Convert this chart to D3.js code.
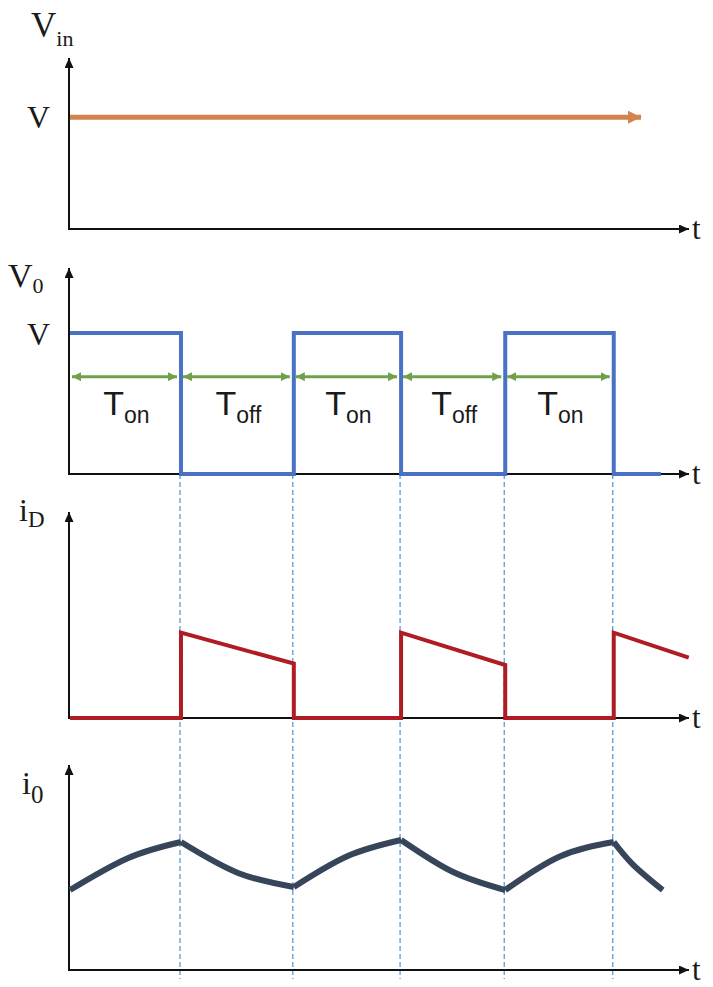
<!DOCTYPE html>
<html>
<head>
<meta charset="utf-8">
<script src="https://cdn.jsdelivr.net/npm/d3@7"></script>
<style>
  body { margin: 0; background: #fff; }
  svg { display: block; }
  .serif { font-family: "Liberation Serif", "DejaVu Serif", serif; fill: #1a1a1a; }
  .sans { font-family: "Liberation Sans", Arial, sans-serif; fill: #1a1a1a; }
</style>
</head>
<body>
<svg id="chart"></svg>
<script>
// time in arbitrary units, switching instants
const switchTimes = [1.79, 3.61, 5.34, 7.02, 8.77];
const spanLabels = ["on", "off", "on", "off", "on"];

// input voltage (constant V)
const vinTime = [0, 9.21];
const vinValue = [1, 1];

// output voltage (square wave)
const v0Time = [0, 1.79, 1.79, 3.61, 3.61, 5.34, 5.34, 7.02, 7.02, 8.77, 8.77, 9.53];
const v0Value = [1, 1, 0, 0, 1, 1, 0, 0, 1, 1, 0, 0];

// diode current
const iDTime = [0, 1.79, 1.79, 3.61, 3.61, 5.34, 5.34, 7.02, 7.02, 8.77, 8.77, 9.98];
const iDValue = [0, 0, 0.58, 0.37, 0, 0, 0.58, 0.36, 0, 0, 0.58, 0.41];

// load current (start, middle, end of each rising / falling stretch)
const i0Time = [0, 0.94, 1.79, 2.71, 3.61, 4.48, 5.34, 6.18, 7.02, 7.9, 8.77, 9.08, 9.56];
const i0Value = [0.546, 0.765, 0.874, 0.663, 0.567, 0.779, 0.888, 0.669, 0.546, 0.775, 0.874, 0.72, 0.546];

const width = 713;
const height = 987;

const svg = d3.select("#chart").attr("width", width).attr("height", height);

const x = d3.scaleLinear().domain([0, 10]).range([69, 689]);

// one y scale per panel
const yVin = d3.scaleLinear().domain([0, 1.53]).range([229, 58]);
const yV0 = d3.scaleLinear().domain([0, 1.46]).range([474, 268]);
const yID = d3.scaleLinear().domain([0, 1.4]).range([718, 512]);
const yI0 = d3.scaleLinear().domain([0, 1.4]).range([970, 765]);

const defs = svg.append("defs");

function arrowMarker(id, color, w, h) {
    defs.append("marker")
        .attr("id", id)
        .attr("viewBox", `0 0 ${w} ${h}`)
        .attr("refX", w)
        .attr("refY", h / 2)
        .attr("markerUnits", "userSpaceOnUse")
        .attr("markerWidth", w)
        .attr("markerHeight", h)
        .attr("orient", "auto-start-reverse")
        .append("path")
        .attr("d", `M0,0L${w},${h / 2}L0,${h}Z`)
        .attr("fill", color);
}
arrowMarker("axisArrow", "#111", 10, 9);
arrowMarker("orangeArrow", "#d4824e", 13, 13);
arrowMarker("greenArrow", "#6fa04a", 9, 9);

// dashed guides at the switching instants
svg.append("g")
    .selectAll("line")
    .data(switchTimes)
    .join("line")
    .attr("x1", d => x(d))
    .attr("x2", d => x(d))
    .attr("y1", yV0(0))
    .attr("y2", 979)
    .attr("stroke", "#5b9bd5")
    .attr("stroke-width", 1.3)
    .attr("stroke-dasharray", "5,3");

// axes with arrows
const panels = [yVin, yV0, yID, yI0];
panels.forEach(y => {
    const g = svg.append("g");
    g.append("line")
        .attr("x1", x(0)).attr("x2", x(0))
        .attr("y1", y(0) + 1).attr("y2", y.range()[1])
        .attr("stroke", "#111").attr("stroke-width", 2)
        .attr("marker-end", "url(#axisArrow)");
    g.append("line")
        .attr("x1", x(0) - 1).attr("x2", x(10))
        .attr("y1", y(0)).attr("y2", y(0))
        .attr("stroke", "#111").attr("stroke-width", 2)
        .attr("marker-end", "url(#axisArrow)");
    g.append("text")
        .attr("class", "serif")
        .attr("x", x(10) + 3)
        .attr("y", y(0) + 10)
        .attr("font-size", 31)
        .text("t");
});

const zip = (ts, vs) => ts.map((t, i) => [t, vs[i]]);

// V_in
svg.append("path")
    .datum(zip(vinTime, vinValue))
    .attr("d", d3.line().x(d => x(d[0]) + 1).y(d => yVin(d[1])))
    .attr("fill", "none")
    .attr("stroke", "#d4824e")
    .attr("stroke-width", 5)
    .attr("marker-end", "url(#orangeArrow)");

// V_0
svg.append("path")
    .datum(zip(v0Time, v0Value))
    .attr("d", d3.line().x(d => x(d[0]) + 1).y(d => yV0(d[1])))
    .attr("fill", "none")
    .attr("stroke", "#4a72c4")
    .attr("stroke-width", 4);

// T_on / T_off arrows and labels
const bounds = [0].concat(switchTimes);
const spans = spanLabels.map((s, i) => ({ a: bounds[i], b: bounds[i + 1], s }));
const tLevel = 0.69;

svg.append("g")
    .selectAll("line")
    .data(spans)
    .join("line")
    .attr("x1", d => x(d.a) + 3)
    .attr("x2", d => x(d.b) - 3)
    .attr("y1", yV0(tLevel))
    .attr("y2", yV0(tLevel))
    .attr("stroke", "#6fa04a")
    .attr("stroke-width", 3)
    .attr("marker-start", "url(#greenArrow)")
    .attr("marker-end", "url(#greenArrow)");

const tLabels = svg.append("g")
    .selectAll("text")
    .data(spans)
    .join("text")
    .attr("class", "sans")
    .attr("text-anchor", "middle")
    .attr("x", d => (x(d.a) + x(d.b)) / 2 + 2)
    .attr("y", 415)
    .attr("font-size", 34);
tLabels.append("tspan").text("T");
tLabels.append("tspan")
    .attr("font-size", 23)
    .attr("dy", 8)
    .text(d => d.s);

// i_D
svg.append("path")
    .datum(zip(iDTime, iDValue))
    .attr("d", d3.line().x(d => x(d[0]) + 1).y(d => yID(d[1])))
    .attr("fill", "none")
    .attr("stroke", "#b01c24")
    .attr("stroke-width", 4)
    .attr("stroke-linejoin", "miter");

// i_0, one smooth stretch between consecutive switching instants
const i0Points = zip(i0Time, i0Value);
const i0Segments = [];
for (let i = 0; i + 2 < i0Points.length; i += 2) {
    i0Segments.push(i0Points.slice(i, i + 3));
}
const i0Line = d3.line()
    .x(d => x(d[0]) + 1)
    .y(d => yI0(d[1]))
    .curve(d3.curveNatural);

svg.append("g")
    .selectAll("path")
    .data(i0Segments)
    .join("path")
    .attr("d", i0Line)
    .attr("fill", "none")
    .attr("stroke", "#37455a")
    .attr("stroke-width", 6)
    .attr("stroke-linejoin", "round");

// axis names
function axisName(xPos, yPos, main, sub, size, subSize, dy) {
    const t = svg.append("text")
        .attr("class", "serif")
        .attr("x", xPos)
        .attr("y", yPos)
        .attr("font-size", size);
    t.append("tspan").text(main);
    t.append("tspan").attr("font-size", subSize).attr("dy", dy).text(sub);
}
axisName(31, 37, "V", "in", 35, 22, 9);
axisName(8, 287, "V", "0", 34, 22, 6);
axisName(19, 521, "i", "D", 32, 23, 6);
axisName(22, 794, "i", "0", 32, 25, 9);

// level labels
svg.append("text").attr("class", "serif")
    .attr("x", 27).attr("y", yVin(1) + 11)
    .attr("font-size", 32).text("V");
svg.append("text").attr("class", "serif")
    .attr("x", 27).attr("y", yV0(1) + 12)
    .attr("font-size", 32).text("V");
</script>
</body>
</html>
